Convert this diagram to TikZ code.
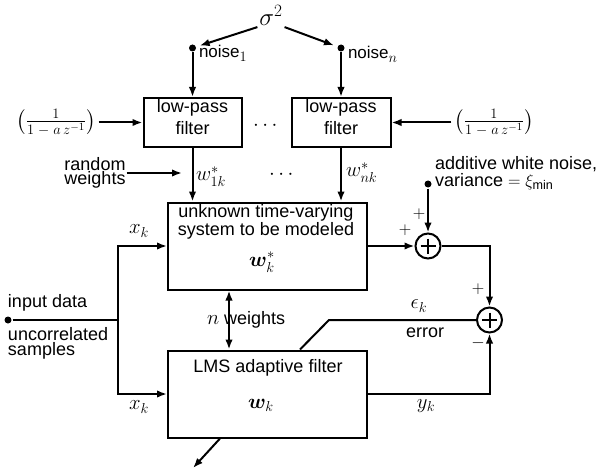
\documentclass[tikz,border=0pt]{standalone}
\usepackage{amsmath}
\usepackage{bm}
\usepackage{fontspec}
\setmainfont{Liberation Sans}
\usetikzlibrary{arrows.meta,calc}
\newcommand{\mytight}{\setlength{\lineskiplimit}{-50pt}}
\begin{document}
\begin{tikzpicture}[x=1pt,y=-1pt, line width=2pt,
  >={Latex[length=10pt,width=7.5pt]},
  every node/.style={font=\fontsize{18}{18}\selectfont},
  blk/.style={draw, rectangle, inner sep=0pt, line width=2pt},
  dotn/.style={circle, fill, inner sep=0pt, minimum size=7pt},
  txt/.style={inner sep=0pt},
  mth/.style={inner sep=0pt, font=\fontsize{22}{22}\selectfont},
  sumn/.style={circle, draw, inner sep=0pt, minimum size=25pt,
    path picture={\draw[line width=2pt]
      ($(path picture bounding box.center)+(-7.5,0)$) -- ($(path picture bounding box.center)+(7.5,0)$)
      ($(path picture bounding box.center)+(0,-7.5)$) -- ($(path picture bounding box.center)+(0,7.5)$);}}]
\useasboundingbox (0,0) rectangle (599,473);

% sigma and noise sources
\node[mth, inner sep=1pt, font=\fontsize{25}{25}\selectfont] (sig) at (271,15) {$\sigma^2$};
\node[dotn] (n1) at (192.5,48) {};
\node[dotn] (nn) at (341,48) {};
\node[txt, anchor=base west, font=\fontsize{17}{17}\selectfont] (n1t) at (198,58) {noise{\fontsize{20}{20}\selectfont$_1$}};
\node[txt, anchor=base west, font=\fontsize{17}{17}\selectfont] (nnt) at (347,59) {noise{\fontsize{20}{20}\selectfont$_n$}};
\draw[->, shorten >=3pt] (sig.south west) -- (n1);
\draw[->, shorten >=3pt] (sig.south east) -- (nn);

% low-pass filters
\node[blk, minimum width=98pt, minimum height=49pt] (lpf1) at (192.5,122.5) {};
\node[blk, minimum width=99pt, minimum height=49pt] (lpf2) at (341,122.5) {};
\node[txt, align=center, font=\fontsize{18}{22}\selectfont] (lpf1t) at (192.5,117.5) {low-pass\\filter};
\node[txt, align=center, font=\fontsize{18}{22}\selectfont] (lpf2t) at (341,117.5) {low-pass\\filter};
\node[mth, anchor=base] (dots1) at (267,131) {$\cdots$};

\node[mth, inner sep=2pt] (f1) at (56,122.5) {$\left(\frac{1}{1\;-\;a\,z^{-1}}\right)$};
\node[mth, inner sep=2pt] (f2) at (494,122.5) {$\left(\frac{1}{1\;-\;a\,z^{-1}}\right)$};
\draw[->] (f1) -- (lpf1);
\draw[->] (f2) -- (lpf2);
\draw[->] (n1) -- (n1 |- lpf1.north);
\draw[->] (nn) -- (nn |- lpf2.north);

% unknown system
\node[blk, minimum width=199pt, minimum height=87pt] (sys) at (267.5,246) {};
\node[txt, align=center, font=\fontsize{18}{18}\selectfont] (syst) at (266,221.5) {unknown time-varying\\system to be modeled};
\node[mth, font=\fontsize{20}{20}\selectfont] (sysw) at (262,262) {$\bm{w}_k^*$};

\draw[->] (lpf1.south) -- (lpf1.south |- sys.north);
\draw[->] (lpf2.south) -- (lpf2.south |- sys.north);
\node[mth, anchor=base west] (w1) at (195,181) {$w_{1k}^*$};
\node[mth, anchor=base west] (wn) at (345,177) {$w_{nk}^*$};
\node[mth, anchor=base] (dots2) at (283,179) {$\cdots$};

\node[txt, align=center, font=\fontsize{18}{14}\selectfont\mytight] (rw) at (95,173) {random\\weights};
\coordinate (rwe) at (182,173);
\draw[->] (rw) -- (rwe);

% LMS filter
\node[blk, minimum width=199pt, minimum height=87pt] (lms) at (267.5,394) {};
\node[txt, anchor=base] (lmst) at (268,372) {LMS adaptive filter};
\node[mth, font=\fontsize{20}{20}\selectfont] (lmsw) at (261,405) {$\bm{w}_k$};

% input
\node[dotn] (in) at (8,320) {};
\coordinate (br) at (118,320);
\node[txt, anchor=base west] (int) at (7,307) {input data};
\node[txt, anchor=north west, align=left, font=\fontsize{18}{15}\selectfont\mytight] (unc) at (7,326) {uncorrelated\\samples};
\draw (in) -- (br);
\draw[->] (br) |- (sys);
\draw[->] (br) |- (lms);
\node[mth] (xk1) at (139,231) {$x_k$};
\node[mth] (xk2) at (139,407) {$x_k$};

% n weights
\coordinate (nwx) at (229,320);
\draw[<->] (sys.south -| nwx) -- (lms.north -| nwx);
\node[txt, anchor=base west] (nwt) at (206,324) {{\fontsize{22}{22}\selectfont$n$} weights};

% summing junctions
\node[sumn] (s1) at (428,246) {};
\node[sumn] (s2) at (489.5,320) {};
\node[dotn] (awn) at (428,184) {};
\node[txt, anchor=north west, align=left, font=\fontsize{18}{17}\selectfont\mytight] (awnt) at (434,155) {additive white noise,\\variance $=\xi_{\text{min}}$};
\draw[->] (awn) -- (s1);
\draw[->] (sys.east) -- (s1);
\draw[->] (s1) -| (s2);
\draw[->] (lms.east) -| (s2);
\node[txt] (p1) at (419,214) {$+$};
\node[txt] (p2) at (405,230) {$+$};
\node[txt] (p3) at (478,289) {$+$};
\node[txt] (m1) at (478,343) {$-$};

% error path
\coordinate (ek) at (329,320);
\path (lms.north west) ++(133,0) coordinate (et);
\draw (s2) -- (ek) -- (et);
\node[mth] (ekt) at (419,306) {$\epsilon_k$};
\node[txt, anchor=base] (errt) at (425,337) {error};
\node[mth] (ykt) at (426,406) {$y_k$};

% output
\path (lms.south west) ++(53,0) coordinate (os);
\coordinate (oe) at (193,468);
\draw[->] (os) -- (oe);
\end{tikzpicture}
\end{document}
